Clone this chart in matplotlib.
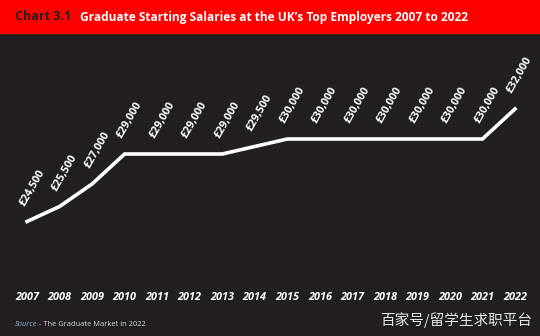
import matplotlib.pyplot as plt
from matplotlib.patches import Rectangle

# %% Data
years = list(range(2007, 2023))
salaries = [24500, 25500, 27000, 29000, 29000, 29000, 29000, 29500,
            30000, 30000, 30000, 30000, 30000, 30000, 30000, 32000]
labels = ["£{:,}".format(s) for s in salaries]

bg = "#231f20"
red = "#ff0000"

plt.rcParams['font.family'] = ['Open Sans', 'DejaVu Sans']

# %% Plot
fig = plt.figure(figsize=(5.4, 3.36), dpi=100, facecolor=bg)
ax = fig.add_axes([0, 0, 1, 1])
ax.set_facecolor(bg)
ax.set_xlim(2006.17, 2022.77)
ax.set_ylim(16867, 39267)
ax.axis("off")

ax.plot(years, salaries, color="white", lw=2.6, solid_joinstyle="miter")

for x, y, lab in zip(years, salaries, labels):
    ax.annotate(lab, (x, y), textcoords="offset points", xytext=(-3.5, 12),
                rotation=60, rotation_mode="anchor", ha="left", va="center",
                color="white", fontsize=7.8, fontweight="bold")

# year labels along the bottom
for x in years:
    ax.text(x, 0.115, str(x), transform=ax.get_xaxis_transform(),
            ha="center", va="center", color="white", fontsize=7.8,
            fontweight="bold", fontstyle="italic")

# red header band
fig.patches.append(Rectangle((0, 1 - 33 / 336), 1, 33 / 336,
                             transform=fig.transFigure, color=red, zorder=0))
fig.text(15 / 540, 1 - 17 / 336, "Chart 3.1", color=bg, fontsize=9,
         fontweight="bold", va="center", ha="left")
fig.text(80 / 540, 1 - 17 / 336,
         "Graduate Starting Salaries at the UK\u2019s Top Employers 2007 to 2022",
         color="white", fontsize=8.6, fontweight="bold", va="center", ha="left")

# footer
fig.text(15 / 540, 1 - 324 / 336, "Source", color="#8fb4d9", fontsize=5.4,
         fontstyle="italic", va="center", ha="left")
fig.text(39 / 540, 1 - 324 / 336, "- The Graduate Market in 2022",
         color="#d8d8d8", fontsize=5.4, va="center", ha="left")
fig.text(532 / 540, 1 - 320 / 336, "百家号/留学生求职平台", color="#e6e6e6",
         fontsize=10.5, va="center", ha="right",
         family=["Noto Sans CJK SC", "DejaVu Sans"])

fig.savefig("out.png", dpi=100, facecolor=bg)
